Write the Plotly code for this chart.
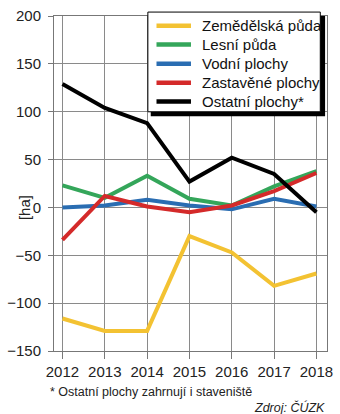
import plotly.graph_objects as go

years = [2012, 2013, 2014, 2015, 2016, 2017, 2018]
zemedelska = [-116, -129, -129, -30, -47, -82, -69]
lesni = [23, 10, 33, 9, 2, 22, 38]
vodni = [0, 2, 8, 2, -2, 9, 1]
zastavene = [-34, 12, 1, -5, 2, 17, 36]
ostatni = [129, 104, 88, 27, 52, 35, -5]

series_names = ["Zemědělská půda", "Lesní půda", "Vodní plochy",
                "Zastavěné plochy", "Ostatní plochy*"]
series_values = [zemedelska, lesni, vodni, zastavene, ostatni]
series_colors = ["#F3C232", "#34A65A", "#2A6DB2", "#D42A2A", "#000000"]

W, H = 340, 414
ml, mr, mt, mb = 48, 7, 10, 63
pw, ph = W - ml - mr, H - mt - mb

def px(x):
    return (x - ml) / pw

def py(y):
    return 1 - (y - mt) / ph

fig = go.Figure()
for name, vals, col in zip(series_names, series_values, series_colors):
    fig.add_trace(go.Scatter(x=years, y=vals, name=name, mode="lines",
                             line=dict(color=col, width=4), showlegend=False))

# custom legend (box with shadow, samples, labels)
shapes = [
    dict(type="rect", xref="paper", yref="paper",
         x0=px(149), x1=px(331), y0=py(112), y1=py(10),
         fillcolor="black", line=dict(width=0), layer="above"),
    dict(type="rect", xref="paper", yref="paper",
         x0=px(146), x1=px(326), y0=py(107.5), y1=py(6),
         fillcolor="white", line=dict(color="black", width=1), layer="above"),
]
annotations = []
row_y = [20, 39, 58.5, 78, 97]
for name, col, ry in zip(series_names, series_colors, row_y):
    shapes.append(dict(type="line", xref="paper", yref="paper",
                       x0=px(155), x1=px(191), y0=py(ry), y1=py(ry),
                       line=dict(color=col, width=4.5), layer="above"))
    annotations.append(dict(text=name, xref="paper", yref="paper",
                            x=px(200), y=py(ry), xanchor="left", yanchor="middle",
                            showarrow=False, font=dict(size=15, color="#111")))

annotations += [
    dict(text="[ha]", textangle=-90, xref="paper", yref="paper",
         x=0, y=py(205), xshift=-40, showarrow=False,
         font=dict(size=15, color="#222")),
    dict(text="* Ostatní plochy zahrnují i staveniště", xref="paper", yref="paper",
         x=px(42), y=py(393), xanchor="left", yanchor="middle", showarrow=False,
         font=dict(size=12.5, color="#222")),
    dict(text="<i>Zdroj: ČÚZK</i>", xref="paper", yref="paper",
         x=px(333), y=py(409), xanchor="right", yanchor="middle", showarrow=False,
         font=dict(size=12.5, color="#222")),
]

fig.update_layout(
    width=W, height=H,
    margin=dict(l=ml, r=mr, t=mt, b=mb),
    paper_bgcolor="white", plot_bgcolor="white",
    font=dict(family="Liberation Sans, Arial", size=15, color="#222"),
    showlegend=False,
    shapes=shapes,
    annotations=annotations,
)
fig.update_xaxes(range=[2011.8, 2018.25], tickvals=years, showgrid=True,
                 gridcolor="#8a8a8a", gridwidth=1, showline=True, linecolor="#777",
                 mirror=True, ticks="outside", ticklen=7, tickcolor="#777",
                 zeroline=False, tickfont=dict(size=15, color="#222"))
fig.update_yaxes(range=[-150, 200], tickvals=[-150, -100, -50, 0, 50, 100, 150, 200],
                 showgrid=True, gridcolor="#8a8a8a", gridwidth=1, showline=True,
                 linecolor="#777", mirror=True, ticks="outside", ticklen=5,
                 tickcolor="#777", zeroline=False, ticklabelstandoff=4,
                 tickfont=dict(size=15, color="#222"))

fig.write_html("out.html")
